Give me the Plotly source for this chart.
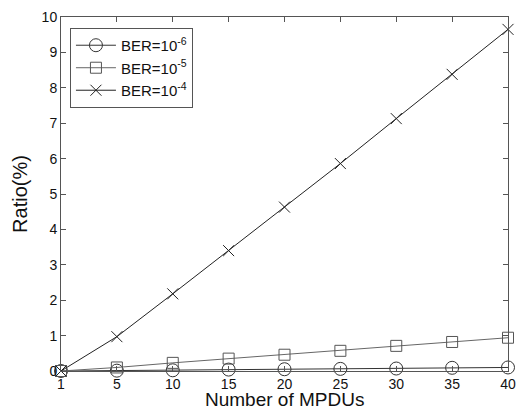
import plotly.graph_objects as go

mpdus = ["1", "5", "10", "15", "20", "25", "30", "35", "40"]
ber_1e6 = [0, 0.01, 0.02, 0.04, 0.05, 0.06, 0.07, 0.09, 0.10]
ber_1e5 = [0, 0.10, 0.23, 0.35, 0.46, 0.57, 0.71, 0.82, 0.94]
ber_1e4 = [0, 0.97, 2.18, 3.40, 4.63, 5.86, 7.13, 8.38, 9.65]
y_ticks = list(range(0, 11))

idx = list(range(len(mpdus)))

fig = go.Figure()
fig.add_trace(go.Scatter(
    x=idx, y=ber_1e6, mode="lines+markers", name="BER=10<sup>-6</sup>",
    line=dict(color="#333333", width=1),
    marker=dict(symbol="circle-open", size=13, color="#333333", line=dict(width=1)),
    cliponaxis=False))
fig.add_trace(go.Scatter(
    x=idx, y=ber_1e5, mode="lines+markers", name="BER=10<sup>-5</sup>",
    line=dict(color="#666666", width=1),
    marker=dict(symbol="square-open", size=11, color="#555555", line=dict(width=1)),
    cliponaxis=False))
fig.add_trace(go.Scatter(
    x=idx, y=ber_1e4, mode="lines+markers", name="BER=10<sup>-4</sup>",
    line=dict(color="#222222", width=1),
    marker=dict(symbol="x-thin-open", size=11, color="#222222", line=dict(width=1, color="#222222")),
    cliponaxis=False))

axis_common = dict(
    showline=True, linecolor="#555555", linewidth=1, mirror="ticks",
    ticks="inside", ticklen=5, tickcolor="#555555", showgrid=False, zeroline=False,
    automargin=False,
    tickfont=dict(family="Liberation Sans, Arial, sans-serif", size=14, color="#111111"),
)

fig.update_layout(
    width=522, height=412,
    margin=dict(l=61, r=14, t=17, b=41),
    paper_bgcolor="white", plot_bgcolor="white",
    font=dict(family="Liberation Sans, Arial, sans-serif", color="#111111"),
    xaxis=dict(
        **axis_common,
        range=[0, len(mpdus) - 1],
        tickmode="array", tickvals=idx, ticktext=mpdus,
    ),
    yaxis=dict(
        **axis_common,
        range=[0, 10],
        tickmode="array", tickvals=y_ticks, ticktext=[str(v) for v in y_ticks],
        title=dict(text="Ratio(%)", font=dict(size=20), standoff=8),
    ),
    legend=dict(
        x=0.02, y=0.969, xanchor="left", yanchor="top",
        bordercolor="#555555", borderwidth=1, bgcolor="white",
        font=dict(size=15, family="Liberation Sans, Arial, sans-serif"),
        tracegroupgap=0, itemwidth=40,
    ),
    showlegend=True,
)

fig.add_annotation(
    text="Number of MPDUs", xref="paper", yref="paper", x=0.5, y=0,
    xanchor="center", yanchor="top", yshift=-17, showarrow=False, borderpad=0,
    font=dict(size=19, family="Liberation Sans, Arial, sans-serif", color="#111111"),
)

fig.write_html("out.html", config={"displayModeBar": False},
               post_script="document.body.style.margin='0';document.body.style.padding='0';")
